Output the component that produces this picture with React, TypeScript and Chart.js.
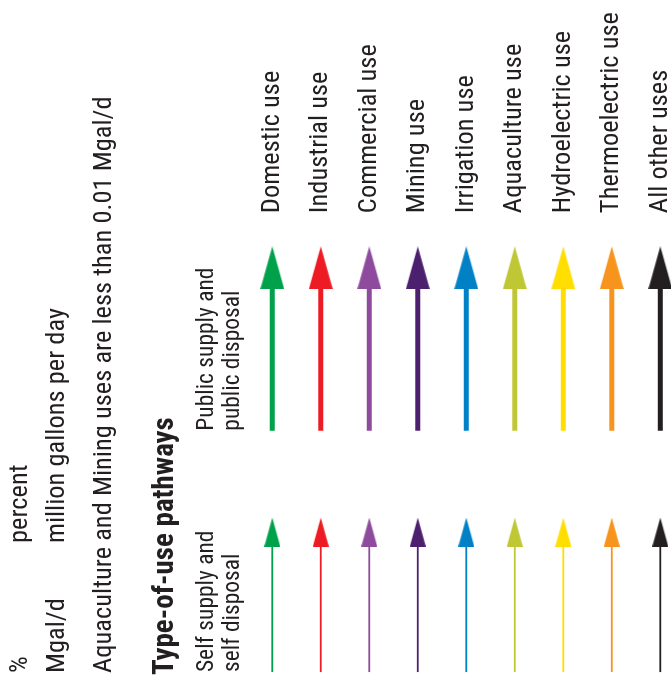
import { useEffect, useRef } from 'react';
import { Chart, registerables } from 'chart.js';

Chart.register(...registerables);

// ---- data ----
const USES = [
  'Domestic use',
  'Industrial use',
  'Commercial use',
  'Mining use',
  'Irrigation use',
  'Aquaculture use',
  'Hydroelectric use',
  'Thermoelectric use',
  'All other uses',
];
const USE_COLORS = [
  '#00A14B',
  '#ED1C24',
  '#8E4A9C',
  '#4D206F',
  '#0081C6',
  '#BFC834',
  '#FFDE00',
  '#F7941D',
  '#231F20',
];
const PATHWAY_LABELS = [
  ['Self supply and', 'self disposal'],
  ['Public supply and', 'public disposal'],
];
const PATHWAY_TAIL = [10, 253];
const PATHWAY_HEAD = [151, 417];
const UNIT_ROWS = [
  ['%', 'percent'],
  ['Mgal/d', 'million gallons per day'],
];
const NOTE = 'Aquaculture and Mining uses are less than 0.01 Mgal/d';
const TITLE = 'Type-of-use pathways';

// ---- style ----
const INK = '#231F20';
const FAMILY = "'Roboto Condensed', 'Liberation Sans Narrow', 'DejaVu Sans Condensed', sans-serif";
const BIG = 26.5;
const SMALL = 23.5;
const LINE_H = 1.2;
const SHAFT_WIDTH = [1.8, 5];
const HEAD_SIZE = [
  [16, 29],
  [24, 43],
];

function makeHead(color: string, w: number, h: number) {
  const c = document.createElement('canvas');
  c.width = w;
  c.height = h;
  const g = c.getContext('2d')!;
  g.fillStyle = color;
  g.beginPath();
  g.moveTo(w / 2, 0);
  g.lineTo(w, h);
  g.lineTo(0, h);
  g.closePath();
  g.fill();
  return c;
}

const textPlugin = {
  id: 'legendText',
  afterDraw(chart: any) {
    const ctx = chart.ctx as CanvasRenderingContext2D;
    const yScale = chart.scales.y;
    const draw = (text: string, x: number, y: number, font: string) => {
      ctx.save();
      ctx.translate(x, y);
      ctx.rotate(-Math.PI / 2);
      ctx.font = font;
      ctx.fillStyle = INK;
      ctx.textAlign = 'left';
      ctx.textBaseline = 'alphabetic';
      ctx.fillText(text, 0, 0);
      ctx.restore();
    };
    const big = `${BIG}px ${FAMILY}`;
    const small = `${SMALL}px ${FAMILY}`;
    const bold = `bold 29px ${FAMILY}`;
    const startY = 673;
    UNIT_ROWS.forEach((row, i) => {
      const bx = 27 + i * 37;
      draw(row[0], bx, startY, big);
      draw(row[1], bx, 543, big);
    });
    draw(NOTE, 111, startY, big);
    draw(TITLE, 173, startY + 2, bold);
    PATHWAY_LABELS.forEach((lines, p) => {
      const y0 = yScale.getPixelForValue(PATHWAY_TAIL[p]);
      lines.forEach((line, j) => draw(line, 213 + j * 26, y0, small));
    });
  },
};

export default function App() {
  const ref = useRef<HTMLCanvasElement>(null);
  useEffect(() => {
    if (!ref.current) return;
    const datasets: any[] = [];
    PATHWAY_TAIL.forEach((tail, p) => {
      USES.forEach((_, u) => {
        datasets.push({
          label: `${USES[u]} ${p}`,
          data: [
            { x: u, y: tail },
            { x: u, y: PATHWAY_HEAD[p] },
          ],
          borderColor: USE_COLORS[u],
          backgroundColor: USE_COLORS[u],
          borderWidth: SHAFT_WIDTH[p],
          borderCapStyle: 'butt',
          pointRadius: [0, 1],
          pointHoverRadius: [0, 1],
          pointBorderWidth: 0,
          pointStyle: makeHead(USE_COLORS[u], HEAD_SIZE[p][0], HEAD_SIZE[p][1]),
          clip: false,
        });
      });
    });
    const chart = new Chart(ref.current, {
      type: 'line',
      data: { datasets },
      options: {
        animation: false,
        responsive: false,
        events: [],
        layout: { padding: { left: 248, top: 8, right: 0, bottom: 0 } },
        plugins: { legend: { display: false }, tooltip: { enabled: false } },
        scales: {
          x: {
            type: 'linear',
            position: 'top',
            min: -0.5,
            max: 8.2,
            grid: { display: false, drawTicks: false },
            border: { display: false },
            afterBuildTicks: (s: any) => {
              s.ticks = USES.map((_, i) => ({ value: i }));
            },
            ticks: {
              autoSkip: false,
              minRotation: 90,
              maxRotation: 90,
              padding: 4,
              labelOffset: BIG * LINE_H,
              color: INK,
              font: { family: FAMILY, size: BIG, lineHeight: LINE_H },
              callback: (v: any) => USES[v] ?? '',
            },
          },
          y: {
            type: 'linear',
            display: false,
            min: 0,
            max: 468,
          },
        },
      },
      plugins: [textPlugin],
    });
    return () => chart.destroy();
  }, []);
  return (
    <div style={{ position: 'absolute', left: 0, top: 0, width: 671, height: 683, background: '#fff' }}>
      <canvas ref={ref} width={671} height={683} style={{ display: 'block' }} />
    </div>
  );
}
